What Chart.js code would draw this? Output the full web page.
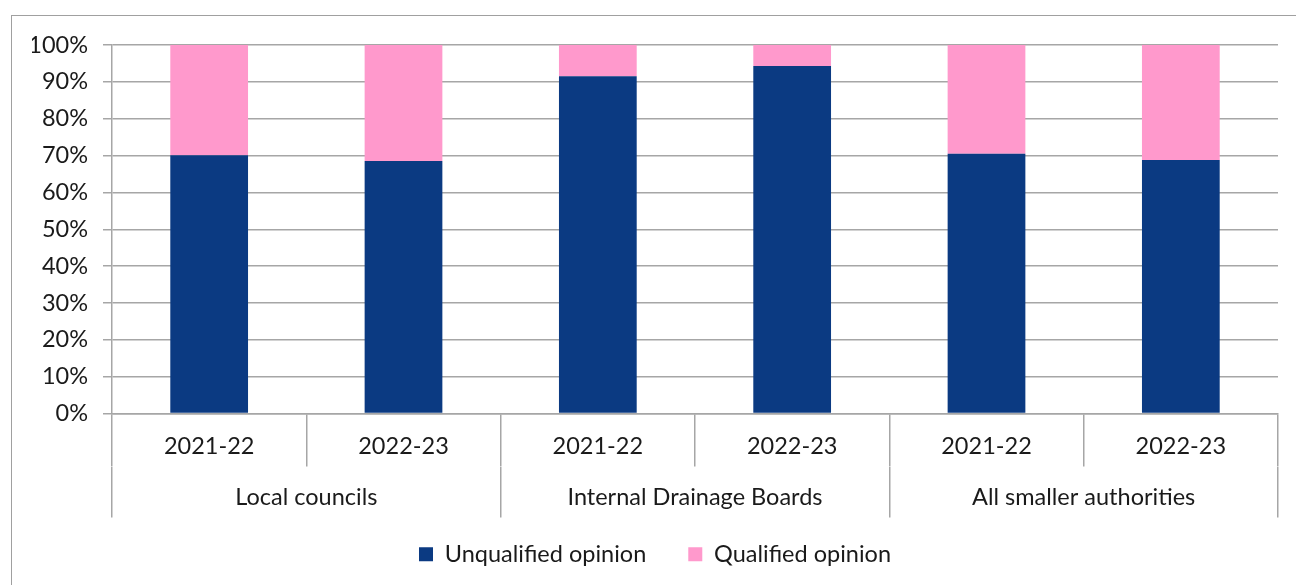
<!DOCTYPE html>
<html>
<head>
<meta charset="utf-8">
<script src="https://cdn.jsdelivr.net/npm/chart.js@4.4.1/dist/chart.umd.min.js"></script>
<style>
html,body{margin:0;padding:0;background:#fff;overflow:hidden;}
#frame{position:absolute;left:11px;top:15px;width:1400px;height:700px;border-top:1px solid #a0a0a0;border-left:1px solid #a0a0a0;}
#wrap{position:absolute;left:0;top:0;width:1296px;height:585px;}
</style>
</head>
<body>
<div id="frame"></div>
<div id="wrap"><canvas id="c"></canvas></div>
<script>
const years = ['2021-22','2022-23','2021-22','2022-23','2021-22','2022-23'];
const groups = ['Local councils','Internal Drainage Boards','All smaller authorities'];
const unqualified = [70.1, 68.5, 91.5, 94.3, 70.5, 68.8];
const qualified = [29.9, 31.5, 8.5, 5.7, 29.5, 31.2];
const yTicks = [0,10,20,30,40,50,60,70,80,90,100];

const FONT = 'Lato, "Open Sans", sans-serif';
const FS = 23.5;
const GRID = '#a6a6a6';

new Chart(document.getElementById('c'), {
  type: 'bar',
  data: {
    labels: years,
    datasets: [
      {label:'Unqualified opinion', data: unqualified, backgroundColor:'#0b3a82', borderWidth:0, categoryPercentage:0.4, barPercentage:1},
      {label:'Qualified opinion', data: qualified, backgroundColor:'#ff99cc', borderWidth:0, categoryPercentage:0.4, barPercentage:1}
    ]
  },
  options: {
    responsive:true,
    maintainAspectRatio:false,
    animation:false,
    layout:{padding:{left:32,right:18,top:45,bottom:9}},
    plugins:{
      tooltip:{enabled:false},
      legend:{
        position:'bottom',
        labels:{font:{family:FONT,size:FS},color:'#1a1a1a',boxWidth:14,boxHeight:14,padding:42}
      }
    },
    scales:{
      x:{
        stacked:true,
        offset:true,
        grid:{offset:true,drawOnChartArea:false,color:GRID,lineWidth:1.5,tickLength:53},
        border:{display:true,color:GRID,width:1.5},
        ticks:{font:{family:FONT,size:FS},color:'#1a1a1a',padding:-34,maxRotation:0,autoSkip:false},
        afterFit:(s)=>{s.height=53;}
      },
      x2:{
        type:'category',
        labels:groups,
        position:'bottom',
        offset:true,
        grid:{offset:true,drawOnChartArea:false,color:GRID,lineWidth:1.5,tickLength:51},
        border:{display:false},
        ticks:{font:{family:FONT,size:FS},color:'#1a1a1a',padding:-45,mirror:true,maxRotation:0,autoSkip:false},
        afterFit:(s)=>{s.height=34;}
      },
      y:{
        stacked:true,
        min:0,max:100,
        afterBuildTicks:(s)=>{s.ticks = yTicks.map(v=>({value:v}));},
        grid:{color:GRID,lineWidth:1.5,tickLength:9},
        border:{display:true,color:GRID,width:1.5},
        ticks:{font:{family:FONT,size:FS},color:'#1a1a1a',padding:15,callback:(v)=>v+'%'},
        afterFit:(s)=>{s.width=80;}
      }
    }
  }
});
</script>
</body>
</html>
